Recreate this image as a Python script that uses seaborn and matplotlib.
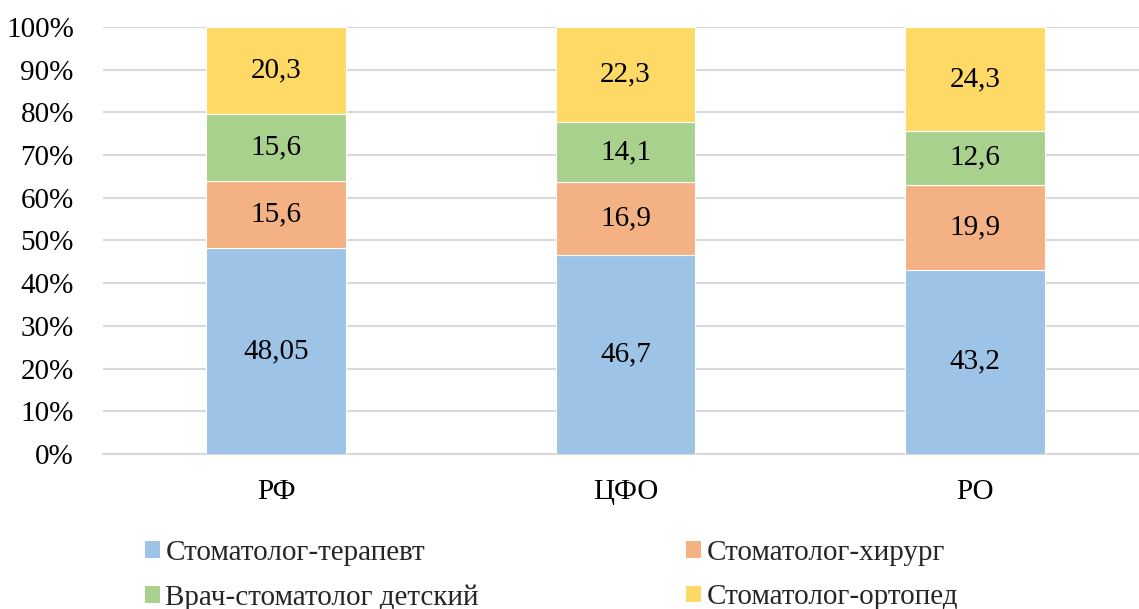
import numpy as np
import pandas as pd
import matplotlib
matplotlib.use("Agg")
import matplotlib.pyplot as plt
import seaborn as sns
from matplotlib.patches import Patch

regions = ["РФ", "ЦФО", "РО"]
series_names = ["Стоматолог-терапевт", "Стоматолог-хирург", "Врач-стоматолог детский", "Стоматолог-ортопед"]
therapist = [48.05, 46.7, 43.2]
surgeon = [15.6, 16.9, 19.9]
pediatric = [15.6, 14.1, 12.6]
orthopedist = [20.3, 22.3, 24.3]
label_texts = [
    ["48,05", "46,7", "43,2"],
    ["15,6", "16,9", "19,9"],
    ["15,6", "14,1", "12,6"],
    ["20,3", "22,3", "24,3"],
]
colors = ["#9DC3E6", "#F4B183", "#A9D18E", "#FFD966"]

sns.set_theme(style="white")
plt.rcParams["font.family"] = ["Liberation Serif", "DejaVu Serif"]

FS = 21

values = np.array([therapist, surgeon, pediatric, orthopedist])
totals = values.sum(axis=0)
shares = values / totals * 100

fig = plt.figure(figsize=(11.39, 6.09), dpi=100)
ax = fig.add_axes([103 / 1139, 1 - 454 / 609, 1 - 103 / 1139, (454 - 27) / 609])

bottom = np.zeros(3)
for i, name in enumerate(series_names):
    df = pd.DataFrame({"region": regions, "share": shares[i]})
    sns.barplot(data=df, x="region", y="share", bottom=bottom, color=colors[i],
                width=0.4, ax=ax, edgecolor="white", linewidth=0.8, saturation=1, zorder=3)
    for j in range(3):
        ax.text(j, bottom[j] + shares[i][j] / 2, label_texts[i][j], ha="center", va="center",
                fontsize=FS, color="black", zorder=4)
    bottom = bottom + shares[i]

ax.set_ylim(0, 100)
ax.set_xlim(-0.495, 2.469)
ax.set_yticks(np.arange(0, 101, 10))
ax.set_yticklabels([f"{v}%" for v in range(0, 101, 10)])
ax.yaxis.grid(True, color="#D9D9D9", linewidth=1.5, zorder=0)
ax.set_axisbelow(True)
ax.set_xlabel("")
ax.set_ylabel("")
for s in ["top", "right", "left"]:
    ax.spines[s].set_visible(False)
ax.spines["bottom"].set_color("#D9D9D9")
ax.spines["bottom"].set_linewidth(1.5)
ax.tick_params(axis="both", length=0, labelsize=FS, colors="black")
ax.tick_params(axis="y", pad=21)
ax.tick_params(axis="x", pad=18)

order = [0, 2, 1, 3]
handles = [Patch(facecolor=colors[k], edgecolor="none") for k in order]
labels = [series_names[k] for k in order]
fig.legend(handles, labels, ncol=2, loc="upper left", bbox_to_anchor=(145 / 1139, 1 - 540 / 609),
           frameon=False, fontsize=FS, handlelength=0.5, handleheight=0.5, handletextpad=0.2,
           columnspacing=7.1, labelspacing=0.63, borderaxespad=0, borderpad=0)

fig.savefig("out.png", dpi=100)
